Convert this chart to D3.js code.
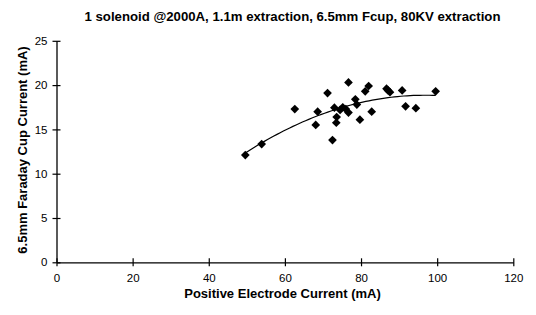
<!DOCTYPE html>
<html>
<head>
<meta charset="utf-8">
<script src="https://cdn.jsdelivr.net/npm/d3@7"></script>
<style>
  html, body { margin: 0; padding: 0; background: #fff; }
  svg { display: block; }
  text { font-family: "Liberation Sans", Arial, sans-serif; fill: #000; }
</style>
</head>
<body>
<svg id="chart" width="536" height="315"></svg>
<script>
const title = "1 solenoid @2000A, 1.1m extraction, 6.5mm Fcup, 80KV extraction";
const xLabel = "Positive Electrode Current (mA)";
const yLabel = "6.5mm Faraday Cup Current (mA)";
const xTicks = [0, 20, 40, 60, 80, 100, 120];
const yTicks = [0, 5, 10, 15, 20, 25];

// Positive electrode current (mA)
const electrodeCurrent = [49.6, 53.9, 62.6, 71.2, 68.6, 68.1, 72.5, 73.0, 73.6, 73.5,
  75.2, 76.7, 76.0, 76.7, 78.5, 78.9, 79.7, 81.1, 82.0, 82.8,
  86.7, 87.6, 87.1, 90.8, 91.7, 94.4, 99.6, 74.5];
// Faraday cup current (mA)
const cupCurrent = [12.1, 13.35, 17.3, 19.1, 17.0, 15.5, 13.8, 17.45, 16.4, 15.75,
  17.5, 20.3, 17.3, 16.9, 18.4, 17.8, 16.1, 19.3, 19.9, 17.0,
  19.6, 19.2, 19.4, 19.4, 17.6, 17.4, 19.3, 17.2];

const svg = d3.select("#chart");
const x = d3.scaleLinear().domain([0, 120]).range([56.5, 513.3]);
const y = d3.scaleLinear().domain([0, 25]).range([262.3, 40.8]);

// Title
svg.append("text").attr("x", 292.5).attr("y", 20.5).attr("text-anchor", "middle")
  .attr("font-size", 13.2).attr("font-weight", "bold").text(title);

// Axes
const xAxis = d3.axisBottom(x).tickValues(xTicks).tickSize(0).tickPadding(12);
const gx = svg.append("g").attr("transform", `translate(0,${y(0)})`).call(xAxis);
gx.selectAll("text").attr("font-size", 11.5).attr("font-family", "Liberation Sans, Arial, sans-serif");
gx.select(".domain").attr("stroke", "#000").attr("stroke-width", 1.3);
gx.selectAll(".tick").append("line").attr("y1", -4).attr("y2", 4).attr("stroke", "#000").attr("stroke-width", 1.2);

const yAxis = d3.axisLeft(y).tickValues(yTicks).tickSize(0).tickPadding(9);
const gy = svg.append("g").attr("transform", `translate(${x(0)},0)`).call(yAxis);
gy.selectAll("text").attr("font-size", 11.5).attr("font-family", "Liberation Sans, Arial, sans-serif");
gy.select(".domain").attr("stroke", "#000").attr("stroke-width", 1.3);
gy.selectAll(".tick").append("line").attr("x1", -4).attr("x2", 4).attr("stroke", "#000").attr("stroke-width", 1.2);

// Axis labels
svg.append("text").attr("x", 282.5).attr("y", 297.5).attr("text-anchor", "middle")
  .attr("font-size", 13).attr("font-weight", "bold").text(xLabel);
svg.append("text").attr("transform", "translate(26.5,150) rotate(-90)").attr("text-anchor", "middle")
  .attr("font-size", 13).attr("font-weight", "bold").text(yLabel);

// Quadratic least-squares trendline fitted to the data
function quadFit(xs, ys) {
  let S = [0,0,0,0,0], T = [0,0,0];
  xs.forEach((xv, i) => {
    const yv = ys[i];
    for (let k = 0; k < 5; k++) S[k] += Math.pow(xv, k);
    for (let k = 0; k < 3; k++) T[k] += yv * Math.pow(xv, k);
  });
  const A = [[S[0],S[1],S[2],T[0]],[S[1],S[2],S[3],T[1]],[S[2],S[3],S[4],T[2]]];
  for (let i = 0; i < 3; i++) {
    let p = i; for (let r = i+1; r < 3; r++) if (Math.abs(A[r][i]) > Math.abs(A[p][i])) p = r;
    [A[i], A[p]] = [A[p], A[i]];
    for (let r = 0; r < 3; r++) if (r !== i) {
      const f = A[r][i] / A[i][i];
      for (let c = i; c < 4; c++) A[r][c] -= f * A[i][c];
    }
  }
  return [A[0][3]/A[0][0], A[1][3]/A[1][1], A[2][3]/A[2][2]];
}
const coef = quadFit(electrodeCurrent, cupCurrent);
const [xmin, xmax] = d3.extent(electrodeCurrent);
const trendX = d3.range(xmin, xmax + 0.001, (xmax - xmin) / 60);
svg.append("path")
  .datum(trendX)
  .attr("fill", "none").attr("stroke", "#000").attr("stroke-width", 1.2)
  .attr("d", d3.line().x(d => x(d)).y(d => y(coef[0] + coef[1]*d + coef[2]*d*d)));

// Points (diamonds)
const diamond = d3.symbol().type(d3.symbolSquare).size(38);
svg.append("g").selectAll("path")
  .data(electrodeCurrent.map((v, i) => [v, cupCurrent[i]]))
  .join("path")
  .attr("d", diamond)
  .attr("fill", "#000")
  .attr("transform", d => `translate(${x(d[0])},${y(d[1])}) rotate(45)`);
</script>
</body>
</html>
